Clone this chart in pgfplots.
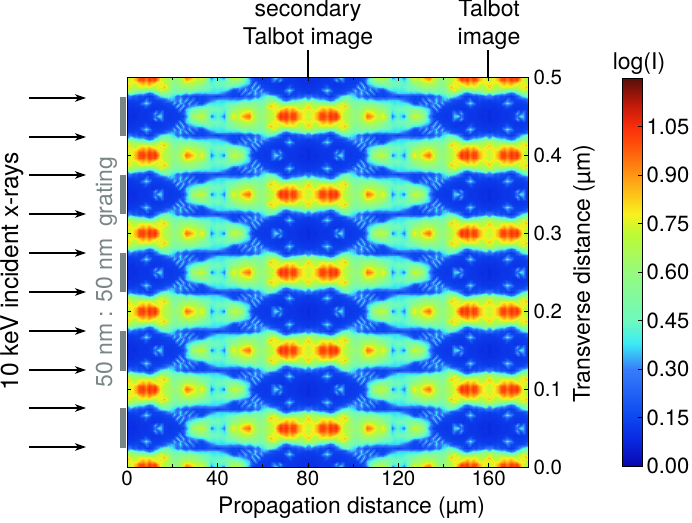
\documentclass[border=0pt]{standalone}
\usepackage{pgfplots}
\usepackage{pgfplotstable}
\usepackage{fontspec}
\usetikzlibrary{arrows.meta}
\setmainfont{TeX Gyre Heros}
\pgfplotsset{compat=1.18}
\definecolor{grt}{RGB}{122,134,134}
\pgfplotsset{
  cmap/.style={
    point meta min=0, point meta max=1.2,
    colormap={talbot}{rgb255(0cm)=(8,8,175); rgb255(8cm)=(10,40,225); rgb255(15cm)=(12,70,240); rgb255(30cm)=(55,125,250); rgb255(38cm)=(60,235,245); rgb255(45cm)=(110,250,190); rgb255(60cm)=(150,250,125); rgb255(72cm)=(190,250,50); rgb255(78cm)=(250,240,30); rgb255(90cm)=(255,150,20); rgb255(100cm)=(255,75,10); rgb255(105cm)=(250,45,10); rgb255(112cm)=(190,25,10); rgb255(120cm)=(85,15,10)},
  },
  common/.style={
    at={(127pt,55pt)}, anchor=south west,
    scale only axis, width=401pt, height=390pt,
    xmin=0, xmax=177.4, ymin=0, ymax=0.5, cmap,
  }
}
% One tile of the carpet, hundredths of log(I): 30 columns (x 0..40 um), 13 rows (0.00..0.05 um from band centre)
\pgfplotstableread[row sep=crcr]{z\\%
73\\76\\80\\88\\100\\103\\96\\105\\100\\105\\92\\76\\70\\66\\62\\60\\62\\66\\78\\96\\92\\85\\74\\70\\80\\66\\54\\28\\36\\44\\%
72\\74\\80\\86\\98\\100\\92\\102\\98\\100\\86\\74\\70\\66\\62\\58\\60\\66\\72\\86\\82\\77\\72\\68\\72\\60\\50\\36\\42\\44\\%
74\\80\\74\\74\\82\\88\\82\\90\\84\\80\\74\\80\\72\\66\\60\\56\\58\\62\\66\\70\\70\\68\\66\\62\\60\\56\\48\\42\\44\\46\\%
84\\72\\68\\70\\74\\76\\74\\76\\72\\70\\80\\74\\86\\70\\58\\54\\55\\58\\60\\60\\62\\60\\58\\56\\52\\48\\46\\44\\42\\44\\%
70\\66\\62\\60\\58\\56\\54\\52\\56\\60\\66\\78\\66\\62\\54\\50\\50\\52\\54\\50\\54\\52\\50\\46\\44\\44\\44\\40\\38\\40\\%
58\\54\\48\\42\\38\\40\\32\\24\\30\\42\\48\\56\\58\\54\\48\\44\\44\\46\\42\\36\\42\\38\\34\\34\\36\\34\\36\\36\\36\\36\\%
38\\28\\20\\22\\16\\18\\14\\12\\14\\22\\32\\40\\44\\46\\40\\36\\24\\30\\20\\17\\22\\16\\14\\16\\14\\16\\18\\18\\16\\13\\%
14\\15\\14\\16\\14\\14\\28\\16\\14\\14\\15\\16\\20\\30\\34\\32\\26\\38\\22\\36\\18\\30\\14\\16\\15\\16\\20\\28\\32\\36\\%
12\\12\\12\\13\\14\\30\\40\\30\\14\\13\\13\\14\\15\\16\\18\\36\\20\\36\\30\\18\\36\\18\\28\\16\\16\\28\\36\\38\\38\\40\\%
11\\11\\11\\12\\12\\14\\22\\14\\12\\12\\12\\12\\13\\14\\14\\16\\38\\20\\36\\18\\30\\32\\36\\38\\38\\42\\46\\44\\42\\44\\%
10\\10\\10\\11\\11\\12\\12\\12\\11\\11\\12\\13\\12\\13\\13\\13\\15\\34\\16\\36\\40\\46\\50\\54\\56\\54\\50\\46\\46\\46\\%
9\\10\\10\\10\\11\\11\\11\\12\\14\\34\\18\\30\\13\\12\\12\\13\\13\\14\\20\\36\\46\\56\\60\\64\\62\\58\\50\\42\\42\\44\\%
8\\10\\9\\10\\11\\11\\11\\12\\14\\24\\38\\36\\13\\12\\12\\12\\13\\13\\14\\30\\44\\64\\66\\72\\74\\66\\54\\28\\36\\44\\%
}\Tile
\newcommand\tile[4]{\addplot[surf,shader=interp,mesh/cols=30,point meta=explicit] table[x index=0,y index=0,
  x expr={#1+(#2)*mod(\coordindex,30)*1.37931},
  y expr={#3+(#4)*floor(\coordindex/30)*0.00416667},
  meta expr={\thisrow{z}/100}] {\Tile};}
% even: band centre on y=0, 0.1, ...   odd: shifted by half a period
\newcommand\colE[2]{\begin{axis}[common,hide axis]\tile{#1}{#2}{0}{1}\tile{#1}{#2}{0.1}{-1}\tile{#1}{#2}{0.1}{1}\tile{#1}{#2}{0.2}{-1}\tile{#1}{#2}{0.2}{1}\tile{#1}{#2}{0.3}{-1}\tile{#1}{#2}{0.3}{1}\tile{#1}{#2}{0.4}{-1}\tile{#1}{#2}{0.4}{1}\tile{#1}{#2}{0.5}{-1}\end{axis}}
\newcommand\colO[2]{\begin{axis}[common,hide axis]\tile{#1}{#2}{0.05}{-1}\tile{#1}{#2}{0.05}{1}\tile{#1}{#2}{0.15}{-1}\tile{#1}{#2}{0.15}{1}\tile{#1}{#2}{0.25}{-1}\tile{#1}{#2}{0.25}{1}\tile{#1}{#2}{0.35}{-1}\tile{#1}{#2}{0.35}{1}\tile{#1}{#2}{0.45}{-1}\tile{#1}{#2}{0.45}{1}\end{axis}}
\begin{document}
\begin{tikzpicture}[x=1pt,y=1pt]
\path[use as bounding box] (0,0) rectangle (692,522);
\colE{0}{1}
\colO{80}{-1}
\colO{80}{1}
\colE{160}{-1}
\colE{160}{1}
\begin{axis}[
  common,
  axis line style={line width=0.9pt},
  tick style={black,line width=0.6pt},
  major tick length=4pt, minor tick length=3pt,
  tick align=inside,
  xtick={0,40,80,120,160}, minor xtick={20,60,100,140},
  ytick={0,0.1,0.2,0.3,0.4,0.5},
  yticklabel pos=right,
  ytick pos=both, xtick pos=both, xticklabel pos=bottom,
  tick label style={font=\fontsize{20.5}{22}\selectfont},
  /pgf/number format/assume math mode=true,
  yticklabel style={xshift=2pt,/pgf/number format/.cd,fixed,fixed zerofill,precision=1,assume math mode=true},
  xticklabel style={/pgf/number format/assume math mode=true},
  xlabel={Propagation distance (µm)}, ylabel={Transverse distance (µm)},
  every axis x label/.style={at={(axis description cs:0.56,-0.105)},anchor=center,font=\fontsize{22.8}{24}\selectfont},
  every axis y label/.style={at={(axis description cs:1.1397,0.495)},anchor=center,rotate=90,font=\fontsize{23}{24}\selectfont},
]
\end{axis}
% colour scale
\begin{axis}[
  at={(622pt,56pt)}, anchor=south west,
  scale only axis, width=20pt, height=388pt,
  xmin=0, xmax=1, ymin=0, ymax=1.2, cmap,
  xtick=\empty,
  ytick={0,0.15,0.30,0.45,0.60,0.75,0.90,1.05},
  ytick pos=right, yticklabel pos=right,
  tick align=inside, major tick length=4pt,
  tick style={black,line width=0.6pt},
  axis line style={line width=0.8pt},
  axis on top,
  yticklabel style={font=\fontsize{22}{24}\selectfont,xshift=1pt,/pgf/number format/.cd,fixed,fixed zerofill,precision=2,assume math mode=true},
]
\addplot[surf,shader=interp,mesh/cols=2,point meta=y] table {
x y
0 0
1 0
0 1.2
1 1.2
};
\end{axis}
\tikzset{every node/.style={font=\fontsize{23}{25}\selectfont,inner sep=0pt}}
% annotations
\draw[line width=1.2pt] (308,445) -- (308,472);
\draw[line width=1.2pt] (488,445) -- (488,472);
\node[anchor=base] at (308,505) {secondary};
\node[anchor=base] at (308,477) {Talbot image};
\node[anchor=base] at (489,505) {Talbot};
\node[anchor=base] at (489,477) {image};
\node[anchor=base] at (639,452) {log(I)};
% arrows
\foreach \yy in {98,137,175,214,253,292,331,370,408,447}
  \draw[line width=1.3pt,-{Stealth[length=11pt,width=7.5pt,inset=3pt]}] (29,522-\yy) -- (86,522-\yy);
% grating
\foreach \yy in {97,175,253,331,408}
  \fill[grt] (119.5,522-\yy) rectangle (126,522-\yy-39.5);
\node[rotate=90,anchor=base,font=\fontsize{24.5}{26}\selectfont] at (18,251) {10 keV incident x-rays};
\node[rotate=90,anchor=base,text=grt] at (112,250) {50 nm : 50 nm\hspace{0.5em}grating};
\end{tikzpicture}
\end{document}
